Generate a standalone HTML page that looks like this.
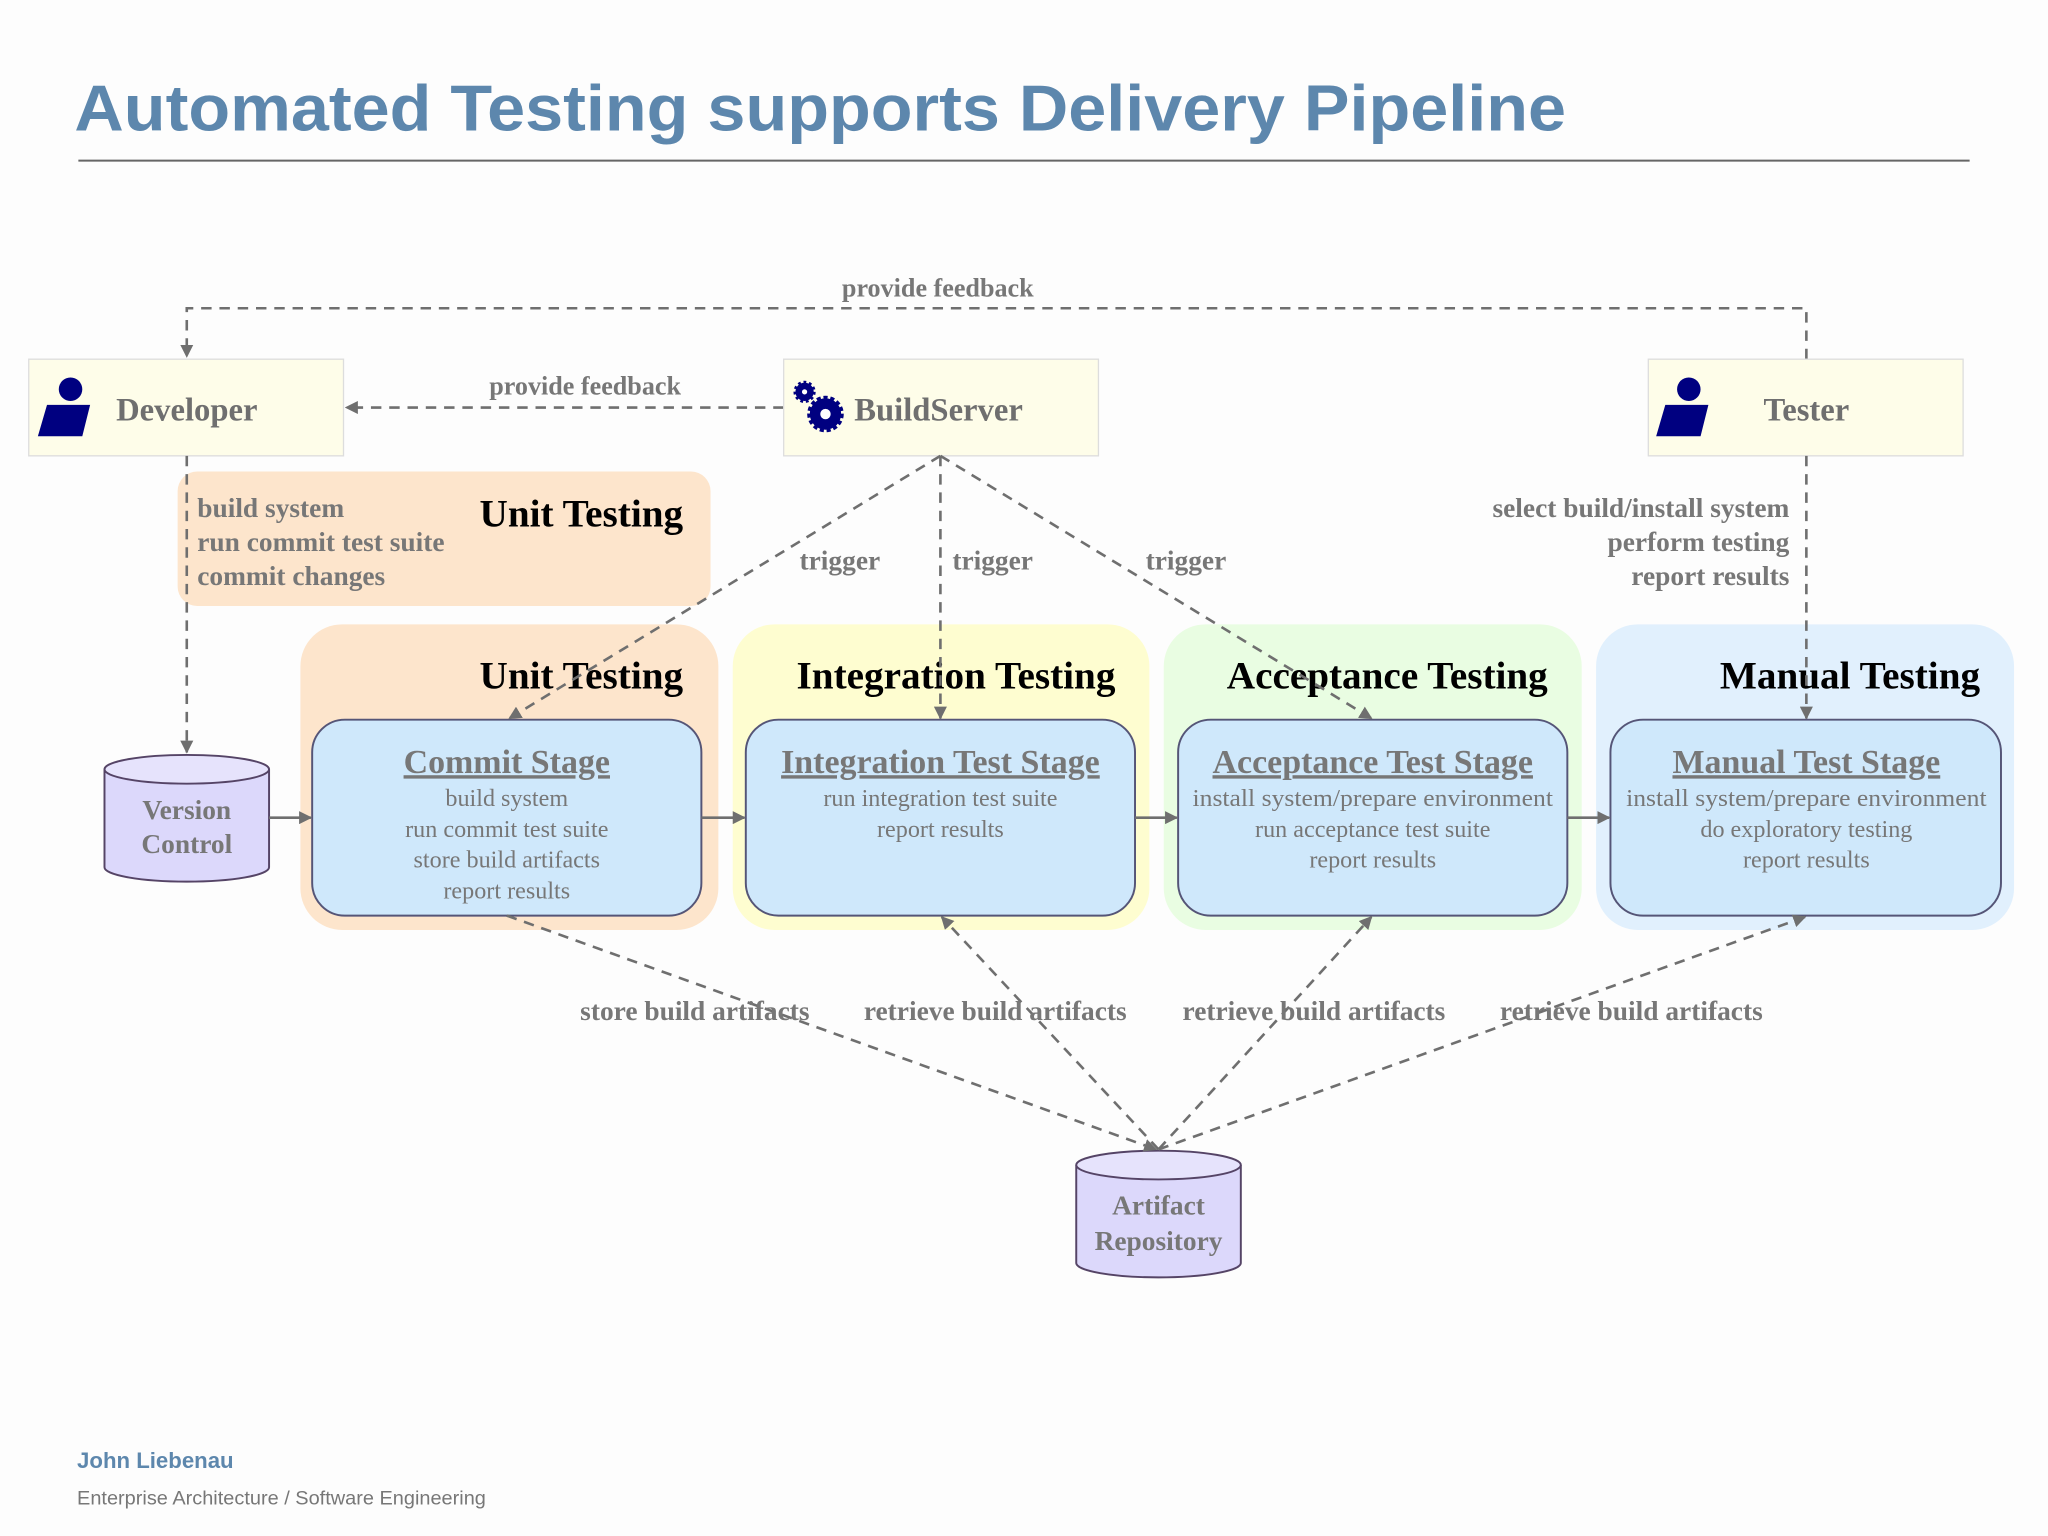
<!DOCTYPE html>
<html><head><meta charset="utf-8"><style>
html,body{margin:0;padding:0;background:#fdfdfd;}
svg{display:block;}
.serif{font-family:"Liberation Serif",serif;}
.sans{font-family:"Liberation Sans",sans-serif;}
</style></head><body>
<svg width="2048" height="1536" viewBox="0 0 1568 1176" xmlns="http://www.w3.org/2000/svg">
<defs>
<marker id="a" markerWidth="10" markerHeight="10" refX="9" refY="5" orient="auto" markerUnits="userSpaceOnUse">
<path d="M0,0 L10,5 L0,10 z" fill="#6f6f6f"/></marker>
</defs>
<rect width="1568" height="1176" fill="#fdfdfd"/>
<text x="57" y="100" class="sans" font-size="50" font-weight="bold" fill="#5d87ad" textLength="1142" lengthAdjust="spacingAndGlyphs">Automated Testing supports Delivery Pipeline</text>
<line x1="60" y1="123" x2="1508" y2="123" stroke="#666" stroke-width="1.5"/>

<g fill="none" stroke="#6f6f6f" stroke-width="2" stroke-dasharray="8,6">
<path d="M1383,275 V236 H143 V273" marker-end="url(#a)"/>
<path d="M600,312 H265" marker-end="url(#a)"/>
</g>
<text x="718" y="227" text-anchor="middle" class="serif" font-size="20" font-weight="bold" fill="#777">provide feedback</text>
<text x="448" y="302" text-anchor="middle" class="serif" font-size="20" font-weight="bold" fill="#777">provide feedback</text>

<!-- actor boxes -->
<rect x="22" y="275" width="241" height="74" fill="#fefde9" stroke="#ddd"/>
<rect x="600" y="275" width="241" height="74" fill="#fefde9" stroke="#ddd"/>
<rect x="1262" y="275" width="241" height="74" fill="#fefde9" stroke="#ddd"/>
<circle cx="54" cy="298" r="9" fill="#000080"/><path d="M36,310 H69 L63,334 H29 z" fill="#000080"/>
<circle cx="1293" cy="298" r="9" fill="#000080"/><path d="M1275,310 H1308 L1302,334 H1268 z" fill="#000080"/>
<g fill="#000080">
<circle cx="616" cy="300" r="7" stroke="#000080" stroke-width="3" stroke-dasharray="2,2"/>
<circle cx="632" cy="317" r="12" stroke="#000080" stroke-width="4" stroke-dasharray="3,2"/>
</g>
<circle cx="616" cy="300" r="2" fill="#fff"/><circle cx="632" cy="317" r="4" fill="#fff"/>
<g class="serif" font-size="25" font-weight="bold" fill="#6f6f6f">
<text x="143" y="322" text-anchor="middle">Developer</text>
<text x="654" y="322">BuildServer</text>
<text x="1383" y="322" text-anchor="middle">Tester</text>
</g>

<!-- unit note -->
<rect x="136" y="361" width="408" height="103" rx="15" fill="#fde5cc"/>
<g class="serif" font-size="21" font-weight="bold" fill="#777">
<text x="151" y="396">build system</text><text x="151" y="422">run commit test suite</text><text x="151" y="448">commit changes</text>
</g>
<text x="523" y="403" text-anchor="end" class="serif" font-size="30" font-weight="bold" fill="#000">Unit Testing</text>
<g class="serif" font-size="21" font-weight="bold" fill="#777" text-anchor="end">
<text x="1370" y="396">select build/install system</text><text x="1370" y="422">perform testing</text><text x="1370" y="448">report results</text>
</g>

<!-- groups -->
<rect x="230" y="478" width="320" height="234" rx="32" fill="#fde5cc"/>
<rect x="561" y="478" width="319" height="234" rx="32" fill="#fefdd0"/>
<rect x="891" y="478" width="320" height="234" rx="32" fill="#e9fde2"/>
<rect x="1222" y="478" width="320" height="234" rx="32" fill="#e1f0fd"/>
<g class="serif" font-size="30" font-weight="bold" fill="#000" text-anchor="end">
<text x="523" y="527">Unit Testing</text><text x="854" y="527">Integration Testing</text>
<text x="1185" y="527">Acceptance Testing</text><text x="1516" y="527">Manual Testing</text>
</g>

<g fill="none" stroke="#6f6f6f" stroke-width="2" stroke-dasharray="8,6">
<path d="M143,349 V576" marker-end="url(#a)"/>
<path d="M1383,349 V550" marker-end="url(#a)"/>
</g>

<!-- stages -->
<g fill="#cfe8fb" stroke="#555577" stroke-width="1.5">
<rect x="239" y="551" width="298" height="150" rx="25"/>
<rect x="571" y="551" width="298" height="150" rx="25"/>
<rect x="902" y="551" width="298" height="150" rx="25"/>
<rect x="1233" y="551" width="299" height="150" rx="25"/>
</g>
<g class="serif" font-size="26" font-weight="bold" fill="#777" text-anchor="middle" text-decoration="underline">
<text x="388" y="592">Commit Stage</text><text x="720" y="592">Integration Test Stage</text>
<text x="1051" y="592">Acceptance Test Stage</text><text x="1383" y="592">Manual Test Stage</text>
</g>
<g class="serif" font-size="18.5" fill="#777" text-anchor="middle">
<text x="388" y="617">build system</text><text x="388" y="641">run commit test suite</text><text x="388" y="664">store build artifacts</text><text x="388" y="688">report results</text>
<text x="720" y="617">run integration test suite</text><text x="720" y="641">report results</text>
<text x="1051" y="617" textLength="276" lengthAdjust="spacingAndGlyphs">install system/prepare environment</text><text x="1051" y="641">run acceptance test suite</text><text x="1051" y="664">report results</text>
<text x="1383" y="617" textLength="276" lengthAdjust="spacingAndGlyphs">install system/prepare environment</text><text x="1383" y="641">do exploratory testing</text><text x="1383" y="664">report results</text>
</g>

<!-- cylinders -->
<g fill="#dcd8fb" stroke="#554466" stroke-width="1.5">
<path d="M80,589 V664 A63,11 0 0 0 206,664 V589"/>
<ellipse cx="143" cy="589" rx="63" ry="11" fill="#e6e3fc"/>
<path d="M824,892 V967 A63,11 0 0 0 950,967 V892"/>
<ellipse cx="887" cy="892" rx="63" ry="11" fill="#e6e3fc"/>
</g>
<g class="serif" font-size="21" font-weight="bold" fill="#777" text-anchor="middle">
<text x="143" y="627">Version</text><text x="143" y="653">Control</text>
<text x="887" y="930">Artifact</text><text x="887" y="957">Repository</text>
</g>

<!-- solid arrows -->
<g stroke="#6f6f6f" stroke-width="2">
<line x1="206" y1="626" x2="238" y2="626" marker-end="url(#a)"/>
<line x1="537" y1="626" x2="570" y2="626" marker-end="url(#a)"/>
<line x1="869" y1="626" x2="901" y2="626" marker-end="url(#a)"/>
<line x1="1200" y1="626" x2="1232" y2="626" marker-end="url(#a)"/>
</g>

<!-- triggers & repo -->
<g fill="none" stroke="#6f6f6f" stroke-width="2" stroke-dasharray="8,6">
<path d="M720,349 L390,550" marker-end="url(#a)"/>
<path d="M720,349 V550" marker-end="url(#a)"/>
<path d="M720,349 L1050,550" marker-end="url(#a)"/>
<path d="M388,701 L885,880" marker-end="url(#a)"/>
<path d="M887,880 L721,702" marker-end="url(#a)"/>
<path d="M887,880 L1050,702" marker-end="url(#a)"/>
<path d="M887,880 L1382,702" marker-end="url(#a)"/>
</g>
<g class="serif" font-size="21" font-weight="bold" fill="#777" text-anchor="middle">
<text x="643" y="436">trigger</text><text x="760" y="436">trigger</text><text x="908" y="436">trigger</text>
<text x="532" y="781">store build artifacts</text><text x="762" y="781">retrieve build artifacts</text>
<text x="1006" y="781">retrieve build artifacts</text><text x="1249" y="781">retrieve build artifacts</text>
</g>

<text x="59" y="1124" class="sans" font-size="17" font-weight="bold" fill="#5d87ad">John Liebenau</text>
<text x="59" y="1152" class="sans" font-size="15" fill="#777" textLength="313" lengthAdjust="spacingAndGlyphs">Enterprise Architecture / Software Engineering</text>
</svg>
</body></html>
